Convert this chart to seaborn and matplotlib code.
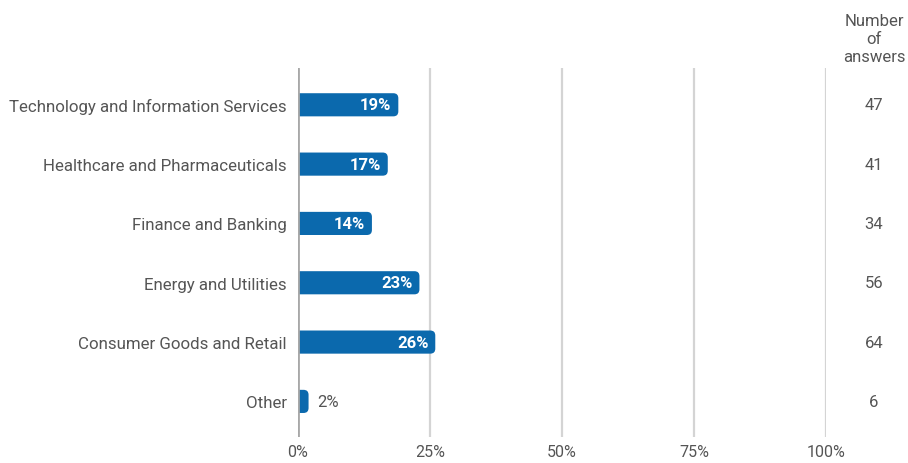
import matplotlib
matplotlib.use("Agg")
import matplotlib.pyplot as plt
from matplotlib.patches import FancyBboxPatch
import seaborn as sns
import pandas as pd

categories = [
    "Technology and Information Services",
    "Healthcare and Pharmaceuticals",
    "Finance and Banking",
    "Energy and Utilities",
    "Consumer Goods and Retail",
    "Other",
]
shares = [19, 17, 14, 23, 26, 2]
answers = [47, 41, 34, 56, 64, 6]
tick_values = [0, 25, 50, 75, 100]
tick_labels = ["0%", "25%", "50%", "75%", "100%"]

BAR = "#0b69ad"
TXT = "#555555"

sns.set_theme(style="white")
plt.rcParams["font.family"] = ["Roboto", "DejaVu Sans"]

df = pd.DataFrame({"category": categories, "share": shares})

fig = plt.figure(figsize=(9.08, 4.64), dpi=100)
ax = fig.add_axes([298 / 908, 26 / 464, 528 / 908, 369 / 464])

bar_h = 0.39
sns.barplot(data=df, x="share", y="category", orient="h", color=BAR,
            width=bar_h, ax=ax, saturation=1)

ax.set_xlim(0, 100)
ax.set_ylim(len(categories) - 1 + 0.6, -0.62)

# replace square bars with bars rounded at the right end
px_x = 528 / 100.0
px_y = 369 / (len(categories) - 1 + 1.22)
radius_px = 5.0
rx = radius_px / px_x
ry = radius_px / px_y
for patch in list(ax.patches):
    x0, y0 = patch.get_x(), patch.get_y()
    w, h = patch.get_width(), patch.get_height()
    patch.remove()
    box = FancyBboxPatch((x0 - 3, y0), w + 3, h,
                         boxstyle=f"round,pad=0,rounding_size={rx}",
                         mutation_aspect=ry / rx,
                         facecolor=BAR, edgecolor="none", zorder=3,
                         clip_on=True)
    ax.add_patch(box)

# gridlines and the zero line
for v in tick_values[1:]:
    ax.axvline(v, color="#d4d4d4", lw=1.6, zorder=1)
ax.axvline(0, color="#a8a8a8", lw=2.0, zorder=4)

for s in ax.spines.values():
    s.set_visible(False)

ax.set_xticks(tick_values)
ax.set_xticklabels(tick_labels, fontsize=11.5, color=TXT)
ax.tick_params(axis="x", length=0, pad=5)
ax.tick_params(axis="y", length=0, pad=8)
ax.set_yticks(range(len(categories)))
ax.set_yticklabels(categories, fontsize=12.2, color=TXT)
ax.set_xlabel("")
ax.set_ylabel("")

# value labels
for i, v in enumerate(shares):
    if v >= 8:
        ax.text(v - 1.3, i, f"{v}%", ha="right", va="center", color="white",
                fontsize=12, fontweight="bold", zorder=5)
    else:
        ax.text(v + 1.6, i, f"{v}%", ha="left", va="center", color=TXT,
                fontsize=12, zorder=5)

# answer counts column
col_x = 874 / 908
fig.text(col_x, 1 - 40 / 464, "Number\nof\nanswers", ha="center", va="center",
         fontsize=12, color=TXT, linespacing=1.25)
for i, n in enumerate(answers):
    y_disp = ax.transData.transform((0, i))[1]
    y_fig = fig.transFigure.inverted().transform((0, y_disp))[1]
    fig.text(col_x, y_fig, str(n), ha="center", va="center",
             fontsize=12, color=TXT)

fig.savefig("out.png", dpi=100)
